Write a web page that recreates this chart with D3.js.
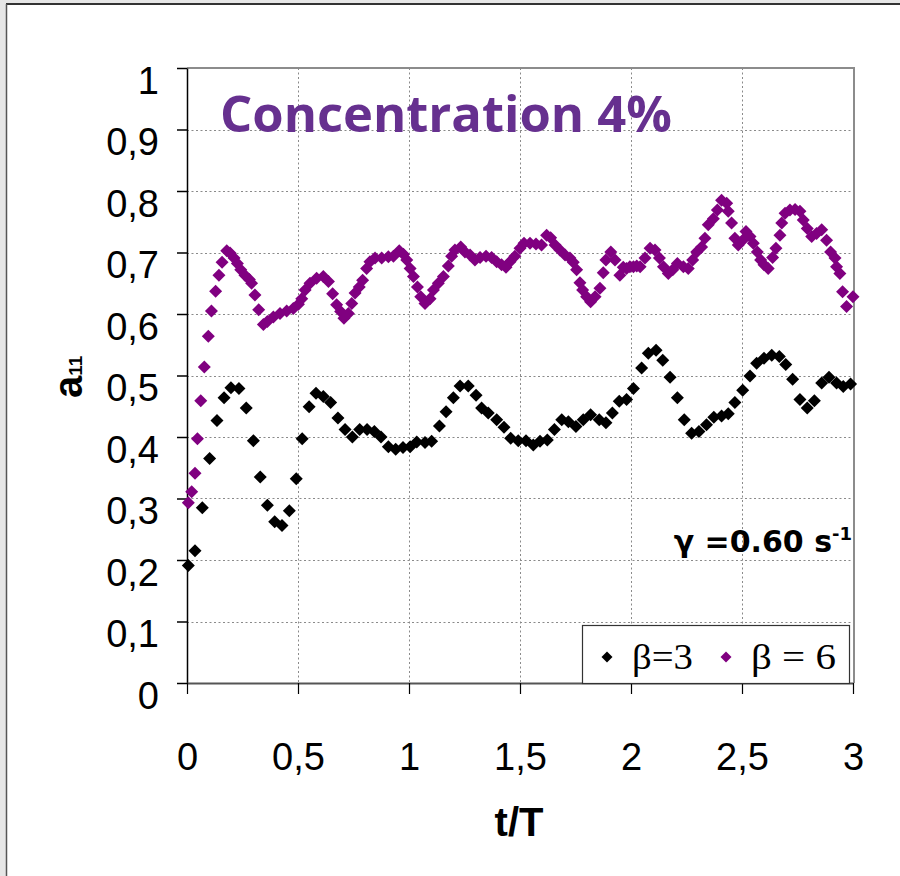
<!DOCTYPE html>
<html>
<head>
<meta charset="utf-8">
<script src="https://cdn.jsdelivr.net/npm/d3@7"></script>
<style>
  html, body { margin: 0; padding: 0; background: #e8e8e8; }
  svg { display: block; }
</style>
</head>
<body>
<svg id="chart" width="900" height="876"></svg>
<script>
// ---- data ----
const xTicks = [0, 0.5, 1, 1.5, 2, 2.5, 3];
const yTicks = [0, 0.1, 0.2, 0.3, 0.4, 0.5, 0.6, 0.7, 0.8, 0.9, 1];
const seriesNames = ["β=3", "β = 6"];

const tBeta3 = [0.006,0.036,0.069,0.102,0.135,0.167,0.198,0.234,0.267,0.299,0.330,0.362,0.395,0.428,0.461,0.492,0.519,0.550,0.581,0.614,0.647,0.680,0.712,0.745,0.778,0.811,0.844,0.874,0.907,0.940,0.973,1.005,1.035,1.072,1.102,1.137,1.167,1.200,1.230,1.267,1.302,1.327,1.357,1.395,1.428,1.458,1.492,1.527,1.560,1.590,1.623,1.655,1.688,1.718,1.752,1.785,1.818,1.857,1.887,1.916,1.947,1.980,2.011,2.048,2.078,2.113,2.143,2.176,2.209,2.240,2.273,2.306,2.340,2.373,2.408,2.438,2.468,2.503,2.536,2.566,2.599,2.634,2.668,2.697,2.728,2.761,2.794,2.826,2.859,2.892,2.926,2.956,2.989];
const aBeta3 = [0.191,0.215,0.285,0.365,0.427,0.464,0.480,0.479,0.447,0.394,0.335,0.289,0.262,0.256,0.280,0.332,0.397,0.449,0.471,0.466,0.456,0.431,0.412,0.400,0.412,0.412,0.409,0.400,0.384,0.380,0.383,0.384,0.392,0.391,0.393,0.418,0.441,0.464,0.483,0.483,0.468,0.447,0.439,0.428,0.416,0.398,0.394,0.394,0.387,0.393,0.395,0.412,0.428,0.425,0.417,0.428,0.436,0.428,0.423,0.439,0.458,0.461,0.479,0.512,0.536,0.541,0.525,0.497,0.464,0.428,0.406,0.409,0.420,0.432,0.434,0.438,0.456,0.476,0.499,0.520,0.528,0.533,0.531,0.518,0.494,0.461,0.447,0.459,0.488,0.497,0.488,0.482,0.486];

const tBeta6 = [0.006,0.021,0.036,0.047,0.062,0.078,0.096,0.110,0.129,0.144,0.158,0.179,0.194,0.212,0.227,0.242,0.261,0.281,0.291,0.306,0.323,0.344,0.362,0.389,0.419,0.449,0.479,0.502,0.517,0.532,0.554,0.584,0.614,0.637,0.656,0.674,0.692,0.707,0.727,0.742,0.757,0.776,0.791,0.809,0.824,0.847,0.877,0.907,0.930,0.956,0.975,0.990,1.005,1.020,1.038,1.053,1.072,1.095,1.110,1.132,1.155,1.177,1.192,1.207,1.233,1.252,1.275,1.297,1.320,1.347,1.372,1.395,1.417,1.437,1.455,1.477,1.500,1.518,1.545,1.572,1.597,1.620,1.638,1.658,1.680,1.703,1.725,1.740,1.755,1.770,1.782,1.800,1.818,1.838,1.860,1.875,1.887,1.909,1.928,1.950,1.965,1.980,1.995,2.011,2.026,2.041,2.063,2.086,2.108,2.128,2.146,2.168,2.188,2.209,2.236,2.258,2.278,2.296,2.318,2.333,2.348,2.371,2.389,2.408,2.431,2.438,2.453,2.468,2.483,2.503,2.518,2.536,2.551,2.569,2.584,2.599,2.618,2.638,2.653,2.671,2.679,2.694,2.716,2.739,2.761,2.776,2.794,2.814,2.836,2.859,2.881,2.899,2.919,2.926,2.941,2.953,2.971,3.000];
const aBeta6 = [0.293,0.311,0.341,0.397,0.459,0.514,0.564,0.605,0.637,0.663,0.684,0.703,0.699,0.691,0.682,0.672,0.663,0.656,0.650,0.631,0.607,0.583,0.588,0.595,0.601,0.605,0.609,0.616,0.625,0.639,0.650,0.658,0.661,0.653,0.633,0.615,0.604,0.593,0.601,0.617,0.634,0.644,0.655,0.674,0.685,0.691,0.691,0.693,0.694,0.703,0.697,0.688,0.674,0.661,0.644,0.628,0.617,0.625,0.639,0.650,0.661,0.678,0.694,0.704,0.709,0.701,0.696,0.688,0.692,0.694,0.692,0.685,0.680,0.676,0.685,0.694,0.707,0.715,0.715,0.714,0.712,0.728,0.724,0.712,0.704,0.696,0.691,0.684,0.672,0.651,0.639,0.628,0.620,0.628,0.642,0.667,0.688,0.701,0.688,0.663,0.676,0.674,0.677,0.677,0.678,0.677,0.691,0.707,0.704,0.691,0.677,0.666,0.672,0.682,0.677,0.674,0.688,0.701,0.709,0.723,0.745,0.755,0.769,0.785,0.780,0.767,0.748,0.723,0.712,0.720,0.734,0.726,0.715,0.701,0.688,0.680,0.674,0.692,0.707,0.728,0.748,0.764,0.769,0.770,0.767,0.753,0.739,0.726,0.731,0.737,0.720,0.701,0.691,0.677,0.666,0.636,0.612,0.628];

// ---- drawing ----
(function () {
const svg = d3.select("#chart");
const W = 900, H = 876;
const pLeft = 187, pRight = 854, pTop = 68, pBottom = 683;

// outer panel
svg.append("rect").attr("x", 0).attr("y", 0).attr("width", W).attr("height", H).attr("fill", "#e6e6e6");
svg.append("rect").attr("x", 7).attr("y", 5).attr("width", W - 7).attr("height", H - 5).attr("fill", "#ffffff");
svg.append("line").attr("x1", 6).attr("x2", W).attr("y1", 4).attr("y2", 4).attr("stroke", "#333").attr("stroke-width", 2);
svg.append("line").attr("x1", 6.5).attr("x2", 6.5).attr("y1", 4).attr("y2", H).attr("stroke", "#555").attr("stroke-width", 1.5);

const x = d3.scaleLinear().domain([0, 3]).range([pLeft, pRight - 1]);
const y = d3.scaleLinear().domain([0, 1]).range([pBottom, pTop]);

const fmt = d => String(d).replace(".", ",");

// grid
const grid = svg.append("g").attr("stroke", "#8a8a8a").attr("stroke-width", 1).attr("stroke-dasharray", "2,2.5");
grid.selectAll(".gy").data(yTicks.filter(d => d > 0 && d < 1)).join("line")
  .attr("x1", pLeft).attr("x2", pRight).attr("y1", d => Math.round(y(d)) + 0.5).attr("y2", d => Math.round(y(d)) + 0.5);
grid.selectAll(".gx").data(xTicks.filter(d => d > 0 && d < 3)).join("line")
  .attr("x1", d => Math.round(x(d)) + 0.5).attr("x2", d => Math.round(x(d)) + 0.5).attr("y1", pTop).attr("y2", pBottom);

// plot frame (top & right in gray)
svg.append("path")
  .attr("d", `M${pLeft},${pTop} H${pRight} V${pBottom}`)
  .attr("fill", "none").attr("stroke", "#8c8c8c").attr("stroke-width", 2);

// axes
const yAxis = d3.axisLeft(y).tickValues(yTicks).tickFormat(fmt).tickSize(10).tickSizeOuter(0);
const gy = svg.append("g").attr("transform", `translate(${pLeft},0)`).call(yAxis);
gy.select(".domain").attr("stroke", "#000").attr("stroke-width", 1.5);
gy.selectAll(".tick line").attr("stroke", "#000").attr("stroke-width", 1.5);
gy.selectAll(".tick text")
  .attr("x", -28).attr("dy", null).attr("y", 25)
  .attr("font-family", "'Liberation Sans', Arial, sans-serif").attr("font-size", 38).attr("fill", "#000");

const xAxis = d3.axisBottom(x).tickValues(xTicks).tickFormat(fmt).tickSize(11).tickSizeOuter(0);
const gx = svg.append("g").attr("transform", `translate(0,${pBottom})`).call(xAxis);
gx.select(".domain").attr("stroke", "#555").attr("stroke-width", 2);
gx.selectAll(".tick line").attr("stroke", "#000").attr("stroke-width", 1.2);
gx.selectAll(".tick text")
  .attr("dy", null).attr("y", 87)
  .attr("font-family", "'Liberation Sans', Arial, sans-serif").attr("font-size", 38).attr("fill", "#000");

// markers
const diamond = "M0,-6.5L6.5,0L0,6.5L-6.5,0Z";
const pts3 = tBeta3.map((t, i) => [t, aBeta3[i]]);
const pts6 = tBeta6.map((t, i) => [t, aBeta6[i]]);
svg.append("g").selectAll("path").data(pts6).join("path")
  .attr("d", diamond).attr("transform", d => `translate(${x(d[0])},${y(d[1])})`).attr("fill", "#800080");
svg.append("g").selectAll("path").data(pts3).join("path")
  .attr("d", diamond).attr("transform", d => `translate(${x(d[0])},${y(d[1])})`).attr("fill", "#000");

// title
svg.append("text").attr("x", 220).attr("y", 132)
  .attr("font-family", "'Open Sans', 'Noto Sans', sans-serif").attr("font-weight", 700)
  .attr("font-size", 51).attr("fill", "#66308f")
  .attr("textLength", 452).attr("lengthAdjust", "spacingAndGlyphs")
  .text("Concentration 4%");

// gamma label
const gl = svg.append("text").attr("x", 852).attr("y", 552).attr("text-anchor", "end")
  .attr("font-family", "'DejaVu Sans', sans-serif").attr("font-weight", 700).attr("font-size", 30).attr("fill", "#000");
gl.append("tspan").text("γ =0.60 s");
gl.append("tspan").attr("font-size", 18).attr("dy", -12).text("-1");

// legend
const lg = svg.append("g");
lg.append("rect").attr("x", 582.5).attr("y", 625.5).attr("width", 267).attr("height", 58)
  .attr("fill", "#fff").attr("stroke", "#333").attr("stroke-width", 1.2);
const legendColors = ["#000", "#800080"];
const legendX = [607, 726];
const legendW = [61, 85];
seriesNames.forEach((name, i) => {
  lg.append("path").attr("d", "M0,-5.5L5.5,0L0,5.5L-5.5,0Z")
    .attr("transform", `translate(${legendX[i]},657)`).attr("fill", legendColors[i]);
  lg.append("text").attr("x", legendX[i] + 25).attr("y", 669)
    .attr("font-family", "'Liberation Serif', 'Times New Roman', serif").attr("font-size", 36).attr("fill", "#000")
    .attr("textLength", legendW[i]).attr("lengthAdjust", "spacingAndGlyphs")
    .text(name);
});

// axis titles
svg.append("text").attr("x", 519).attr("y", 836).attr("text-anchor", "middle")
  .attr("font-family", "'Liberation Sans', Arial, sans-serif").attr("font-weight", 700).attr("font-size", 40)
  .text("t/T");

const yl = svg.append("text").attr("transform", "translate(82,398) rotate(-90)")
  .attr("font-family", "'Liberation Sans', Arial, sans-serif").attr("font-weight", 700).attr("fill", "#000");
yl.append("tspan").attr("font-size", 40).text("a");
yl.append("tspan").attr("font-size", 19).text("11");
})();
</script>
</body>
</html>
